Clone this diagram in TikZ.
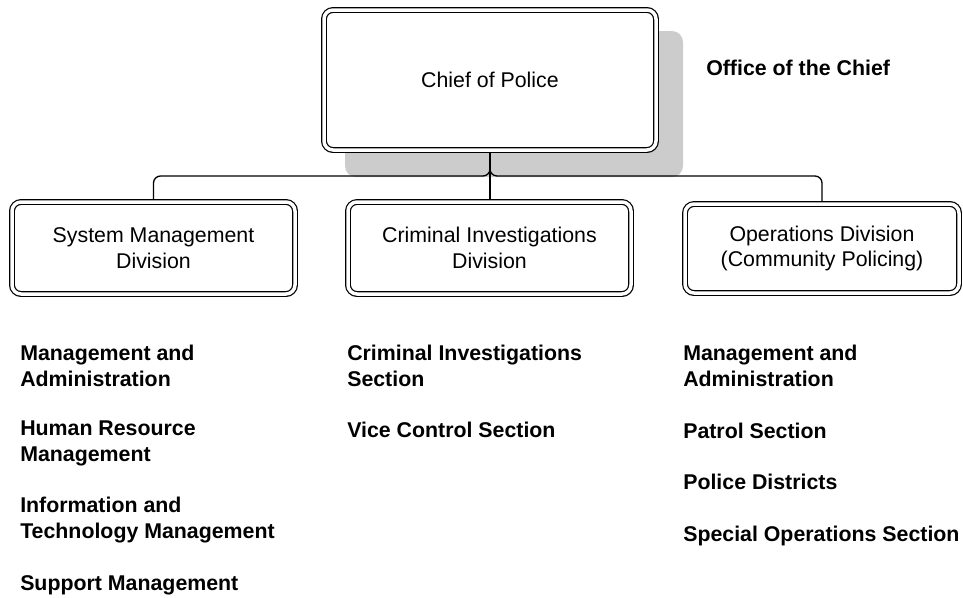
\documentclass[tikz,border=0pt]{standalone}
\usepackage{fontspec}
\setmainfont{Liberation Sans}
\usetikzlibrary{backgrounds}
\newlength\pxu
\setlength\pxu{0.75pt}

\begin{document}
\begin{tikzpicture}[x=0.75pt, y=-0.75pt,
  box/.style={draw=black, double=white, line width=1.2\pxu, double distance=3.5\pxu,
    rounded corners=9\pxu, fill=white, align=center, inner sep=0pt, outer sep=3\pxu,
    font=\fontsize{16}{19.2}\selectfont},
  link/.style={line width=1.3\pxu, rounded corners=7\pxu},
  item/.style={anchor=base west, align=left, inner sep=0pt,
    font=\fontsize{16}{19.2}\selectfont\bfseries}]
\useasboundingbox (0,0) rectangle (963,597);

% chief and divisions
\node[box, minimum width=332\pxu, minimum height=140\pxu] (chief) at (490,80) {Chief of Police};
\node[item] (office) at (706,75) {Office of the Chief};
\node[box, minimum width=283\pxu, minimum height=92\pxu] (smd) at (153.5,248) {System Management\\Division};
\node[box, minimum width=283\pxu, minimum height=92\pxu] (cid) at (489.5,248) {Criminal Investigations\\Division};
\node[box, minimum width=274\pxu, minimum height=89\pxu] (opd) at (822,248.5) {Operations Division\\(Community Policing)};

\begin{scope}[on background layer]
\fill[gray!40, rounded corners=11\pxu] ([shift={(24,24)}]chief.south west) rectangle ([shift={(24,24)}]chief.north east);
\end{scope}

% connectors
\coordinate (bus) at (490,176);
\draw[link] (chief.south) -- (bus) -| (smd.north);
\draw[link] (chief.south) -- (bus) -| (opd.north);
\draw[link] (chief.south) -- (chief.south |- cid.north);

% sections (base = last line)
\node[item] (sm1) at (20,386.5) {Management and\\Administration};
\node[item] (sm2) at (20,461.5) {Human Resource\\Management};
\node[item] (sm3) at (20,538.5) {Information and\\Technology Management};
\node[item] (sm4) at (20,590) {Support Management};

\node[item] (ci1) at (347,386.5) {Criminal Investigations\\Section};
\node[item] (ci2) at (347,437) {Vice Control Section};

\node[item] (op1) at (683,386.5) {Management and\\Administration};
\node[item] (op2) at (683,438) {Patrol Section};
\node[item] (op3) at (683,489) {Police Districts};
\node[item] (op4) at (683,541) {Special Operations Section};
\end{tikzpicture}
\end{document}
